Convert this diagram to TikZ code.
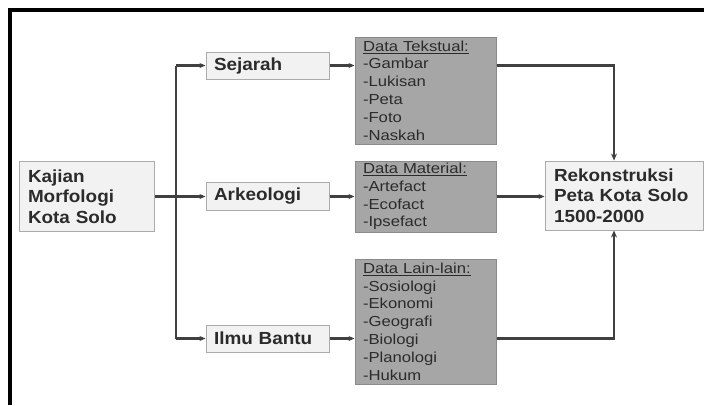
\documentclass[tikz,border=0pt]{standalone}
\usepackage{fontspec}
\setmainfont{Liberation Sans}
\newfontfamily\boxbold[FakeStretch=1.08]{Liberation Sans Bold}
\newfontfamily\boxreg[FakeStretch=1.15]{Liberation Sans}
\usetikzlibrary{arrows.meta}
\definecolor{txt}{HTML}{2B2B2B}
\definecolor{lightbox}{HTML}{F2F2F2}
\definecolor{lightedge}{HTML}{ABABAB}
\definecolor{graybox}{HTML}{A6A6A6}
\definecolor{grayedge}{HTML}{8A8A8A}
\definecolor{linec}{HTML}{404040}
\tikzset{
  lightnode/.style={draw=lightedge, fill=lightbox, line width=1pt, text=txt,
    font=\boxbold\fontsize{17.5}{20.5}\selectfont, align=left, inner ysep=0pt},
  graynode/.style={draw=grayedge, fill=graybox, line width=1pt, text=txt,
    font=\boxreg\fontsize{14.5}{17.8}\selectfont, align=left, inner xsep=8pt, inner ysep=0pt,
    text width=125pt, minimum width=141pt},
  arr/.style={draw=linec, line width=2.2pt, -{Stealth[length=6pt,width=5pt]}},
  conn/.style={draw=linec, line width=2.2pt},
  thick conn/.style={draw=linec, line width=2.8pt}
}
\begin{document}
\begin{tikzpicture}[x=1pt,y=-1pt]
\useasboundingbox (0,0) rectangle (704,405);
\fill[white] (0,0) rectangle (704,405);
\draw[line width=4pt, black] (10,405) -- (10,10) -- (704,10);

\node[lightnode, inner xsep=9pt, text width=117pt, minimum width=135pt, minimum height=70pt] (kaj) at (86.5,196.5) {Kajian\\Morfologi\\Kota Solo};

\node[lightnode, inner xsep=8pt, text width=107pt, minimum width=123pt, minimum height=27pt] (sej) at (267.5,65.5) {Sejarah};
\node[lightnode, inner xsep=8pt, text width=107pt, minimum width=123pt, minimum height=28pt] (ark) at (267.5,196.5) {Arkeologi};
\node[lightnode, inner xsep=8pt, text width=107pt, minimum width=123pt, minimum height=27pt] (ilm) at (267.5,338.5) {Ilmu Bantu};

\node[graynode, minimum height=107pt] (tek) at (425.5,90.5) {\underline{Data Tekstual:}\\-Gambar\\-Lukisan\\-Peta\\-Foto\\-Naskah};
\node[graynode, minimum height=71pt] (mat) at (425.5,196.5) {\underline{Data Material:}\\-Artefact\\-Ecofact\\-Ipsefact};
\node[graynode, minimum height=125pt] (lai) at (425.5,321.5) {\underline{Data Lain-lain:}\\-Sosiologi\\-Ekonomi\\-Geografi\\-Biologi\\-Planologi\\-Hukum};

\node[lightnode, inner xsep=9pt, text width=140pt, minimum width=158pt, minimum height=69pt] (rek) at (624,195.5) {Rekonstruksi\\Peta Kota Solo\\1500-2000};

\coordinate (tr) at (176,196.5);
\coordinate (rx) at (614,196.5);

\draw[conn] (tr |- sej.west) -- (tr |- ilm.west);
\draw[arr] (tr |- sej.west) -- (sej.west);
\draw[arr] (tr |- ilm.west) -- (ilm.west);
\draw[arr] (kaj.east) -- (ark.west);

\draw[arr] (sej.east) -- (sej.east -| tek.west);
\draw[arr] (ark.east) -- (ark.east -| mat.west);
\draw[arr] (ilm.east) -- (ilm.east -| lai.west);

\draw[thick conn, -{Stealth[length=7pt,width=6pt]}] (sej.east -| tek.east) -| (rx |- rek.north);
\draw[arr, line width=2.4pt] (mat.east) -- (mat.east -| rek.west);
\draw[thick conn, -{Stealth[length=7pt,width=6pt]}] (ilm.east -| lai.east) -| (rx |- rek.south);
\end{tikzpicture}
\end{document}
